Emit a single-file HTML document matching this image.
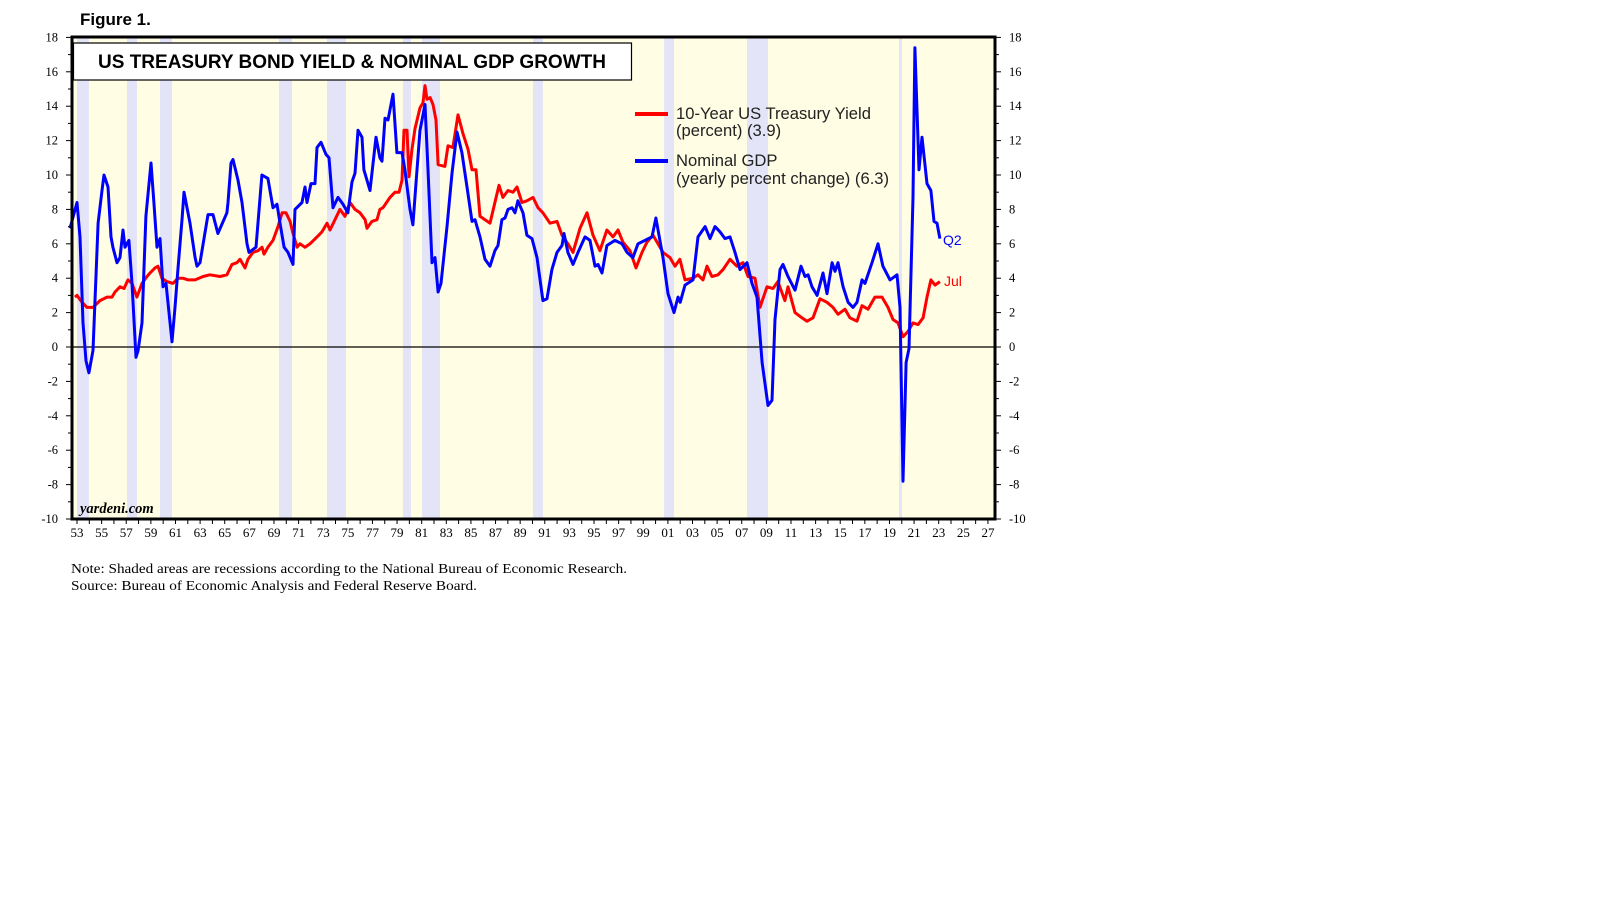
<!DOCTYPE html>
<html><head><meta charset="utf-8"><style>
html,body{margin:0;padding:0;background:#fff;width:1610px;height:910px;overflow:hidden}
svg{display:block}
</style></head><body>
<svg id="chart" width="1610" height="910" xmlns="http://www.w3.org/2000/svg">
<text x="80" y="25" font-family="Liberation Sans, sans-serif" font-weight="bold" font-size="17" fill="#000">Figure 1.</text>
<g id="plot"></g>
</svg>
<script>
const recessions = [[1953.0,1953.97],[1957.06,1957.87],[1959.74,1960.72],[1969.41,1970.47],[1973.31,1974.85],[1979.48,1980.13],[1981.03,1982.49],[1990.04,1990.85],[2000.69,2001.5],[2007.43,2009.13],[2019.78,2020.02]];
const gdpYears = [1952.43,1953.0,1953.24,1953.49,1953.73,1953.97,1954.3,1954.71,1955.03,1955.19,1955.52,1955.76,1955.92,1956.25,1956.49,1956.74,1956.9,1957.22,1957.47,1957.79,1957.96,1958.28,1958.6,1959.01,1959.25,1959.5,1959.74,1959.99,1960.23,1960.72,1960.96,1961.2,1961.53,1961.69,1962.18,1962.59,1962.75,1962.99,1963.64,1964.05,1964.45,1965.18,1965.27,1965.51,1965.67,1966.08,1966.4,1966.81,1966.97,1967.54,1968.02,1968.51,1968.92,1969.25,1969.49,1969.82,1970.14,1970.55,1970.71,1971.28,1971.52,1971.68,1972.01,1972.33,1972.5,1972.82,1973.23,1973.47,1973.8,1974.2,1974.61,1975.01,1975.34,1975.58,1975.83,1976.15,1976.31,1976.8,1977.29,1977.61,1977.78,1978.02,1978.26,1978.67,1978.99,1979.4,1979.64,1980.05,1980.29,1980.62,1980.86,1981.27,1981.51,1981.84,1982.08,1982.33,1982.57,1983.06,1983.46,1983.87,1984.27,1984.68,1985.09,1985.33,1985.74,1986.14,1986.55,1986.95,1987.2,1987.52,1987.77,1988.01,1988.34,1988.58,1988.82,1989.23,1989.55,1989.96,1990.37,1990.85,1991.18,1991.58,1991.99,1992.4,1992.56,1992.88,1993.29,1993.7,1994.27,1994.67,1995.08,1995.32,1995.65,1996.05,1996.7,1997.27,1997.68,1998.16,1998.57,1999.14,1999.71,2000.03,2000.6,2001.01,2001.5,2001.82,2002.0,2002.39,2003.04,2003.45,2004.02,2004.42,2004.83,2005.23,2005.64,2006.05,2006.45,2006.86,2007.43,2007.83,2008.24,2008.65,2009.13,2009.46,2009.7,2010.11,2010.35,2010.76,2011.33,2011.81,2012.14,2012.39,2012.71,2013.12,2013.6,2013.93,2014.34,2014.58,2014.82,2015.23,2015.64,2016.04,2016.36,2016.77,2017.01,2017.58,2018.07,2018.47,2019.04,2019.61,2019.86,2020.1,2020.35,2020.59,2020.91,2021.07,2021.4,2021.64,2022.05,2022.37,2022.62,2022.86,2023.1];
const gdpValues = [6.9,8.4,6.4,1.4,-0.8,-1.5,-0.2,7.2,9.1,10.0,9.3,6.4,5.8,4.9,5.2,6.8,5.8,6.2,3.7,-0.6,-0.2,1.4,7.6,10.7,8.4,5.8,6.3,3.5,3.7,0.3,2.3,4.5,7.4,9.0,7.2,5.2,4.7,4.9,7.7,7.7,6.6,7.8,8.4,10.7,10.9,9.7,8.4,6.0,5.5,5.8,10.0,9.8,8.1,8.3,7.2,5.8,5.5,4.8,8.0,8.4,9.3,8.4,9.5,9.5,11.6,11.9,11.2,11.0,8.1,8.7,8.3,7.8,9.6,10.1,12.6,12.2,10.3,9.1,12.2,11.0,10.8,13.3,13.2,14.7,11.3,11.3,10.3,8.0,7.1,10.3,12.6,14.1,10.3,4.9,5.2,3.2,3.7,7.0,10.1,12.5,11.3,9.3,7.3,7.4,6.4,5.1,4.7,5.6,5.9,7.4,7.5,8.0,8.1,7.8,8.5,7.8,6.5,6.3,5.2,2.7,2.8,4.5,5.5,5.9,6.6,5.5,4.8,5.5,6.4,6.2,4.7,4.8,4.3,5.9,6.2,6.0,5.5,5.2,6.0,6.2,6.4,7.5,5.2,3.1,2.0,2.9,2.6,3.6,3.9,6.4,7.0,6.3,7.0,6.7,6.3,6.4,5.5,4.5,4.9,3.7,2.9,-0.9,-3.4,-3.1,1.6,4.5,4.8,4.1,3.3,4.7,4.1,4.2,3.5,3.0,4.3,3.1,4.9,4.4,4.9,3.5,2.6,2.3,2.6,3.9,3.7,4.9,6.0,4.7,3.9,4.2,2.3,-7.8,-0.9,-0.1,8.7,17.4,10.3,12.2,9.5,9.1,7.3,7.2,6.3];
const yieldYears = [1952.84,1953.0,1953.41,1953.81,1954.3,1954.87,1955.44,1955.84,1956.09,1956.49,1956.82,1957.14,1957.47,1957.87,1958.28,1958.69,1958.93,1959.34,1959.58,1959.9,1960.31,1960.8,1961.2,1961.61,1962.02,1962.59,1963.24,1963.8,1964.62,1965.18,1965.59,1965.99,1966.24,1966.65,1966.89,1967.3,1967.7,1968.03,1968.19,1968.51,1968.92,1969.33,1969.66,1969.98,1970.31,1970.55,1970.88,1971.11,1971.52,1971.93,1972.5,1972.9,1973.31,1973.55,1973.96,1974.36,1974.77,1975.18,1975.58,1975.99,1976.4,1976.56,1976.96,1977.37,1977.61,1977.86,1978.43,1978.83,1979.16,1979.4,1979.56,1979.81,1979.97,1980.21,1980.46,1980.86,1981.11,1981.27,1981.43,1981.68,1981.92,1982.16,1982.33,1982.89,1983.14,1983.54,1983.95,1984.36,1984.76,1985.09,1985.41,1985.74,1986.14,1986.55,1986.95,1987.28,1987.6,1988.01,1988.42,1988.74,1989.15,1989.55,1990.04,1990.45,1990.85,1991.42,1991.99,1992.4,1992.88,1993.29,1993.86,1994.43,1994.92,1995.48,1996.05,1996.54,1996.95,1997.35,1997.92,1998.41,1998.9,1999.3,1999.79,2000.2,2000.6,2001.17,2001.58,2001.98,2002.39,2003.04,2003.45,2003.85,2004.18,2004.58,2005.07,2005.48,2006.05,2006.61,2007.1,2007.51,2008.08,2008.48,2009.05,2009.54,2009.94,2010.51,2010.76,2011.33,2011.89,2012.3,2012.79,2013.36,2013.93,2014.41,2014.82,2015.39,2015.79,2016.36,2016.77,2017.26,2017.82,2018.39,2018.88,2019.29,2019.69,2020.1,2020.51,2020.91,2021.32,2021.73,2022.05,2022.37,2022.7,2023.1];
const yieldValues = [2.9,3.0,2.6,2.3,2.3,2.7,2.9,2.9,3.2,3.5,3.4,3.9,3.7,2.9,3.7,4.1,4.3,4.6,4.7,4.0,3.8,3.7,4.0,4.0,3.9,3.9,4.1,4.2,4.1,4.2,4.8,4.9,5.1,4.6,5.1,5.5,5.6,5.8,5.4,5.8,6.2,7.0,7.8,7.8,7.3,6.6,5.8,6.0,5.8,6.0,6.4,6.7,7.2,6.8,7.4,8.0,7.6,8.4,8.0,7.8,7.4,6.9,7.3,7.4,8.0,8.1,8.7,9.0,9.0,9.7,12.6,12.6,9.9,11.5,12.7,13.9,14.2,15.2,14.4,14.5,14.1,13.2,10.6,10.5,11.7,11.6,13.5,12.4,11.5,10.3,10.3,7.6,7.4,7.2,8.4,9.4,8.7,9.1,9.0,9.3,8.4,8.5,8.7,8.1,7.8,7.2,7.3,6.5,6.0,5.5,6.9,7.8,6.5,5.6,6.8,6.4,6.8,6.1,5.6,4.6,5.5,6.1,6.5,6.0,5.5,5.2,4.7,5.1,3.9,4.0,4.2,3.9,4.7,4.1,4.2,4.5,5.1,4.7,4.9,4.1,4.0,2.3,3.5,3.4,3.8,2.7,3.5,2.0,1.7,1.5,1.7,2.8,2.6,2.3,1.9,2.2,1.7,1.5,2.4,2.2,2.9,2.9,2.3,1.6,1.4,0.6,0.9,1.4,1.3,1.7,2.9,3.9,3.6,3.8];
const yTicks = [18,16,14,12,10,8,6,4,2,0,-2,-4,-6,-8,-10];
const xTickLabels = ['53','55','57','59','61','63','65','67','69','71','73','75','77','79','81','83','85','87','89','91','93','95','97','99','01','03','05','07','09','11','13','15','17','19','21','23','25','27'];

const NS='http://www.w3.org/2000/svg';
const L=72,R=995,T=37,B=519;
const xs=yr=>77+(yr-1953)*12.31;
const ys=v=>347-v*17.2;
const g=document.getElementById('plot');
function mk(tag,attrs,parent){const e=document.createElementNS(NS,tag);for(const k in attrs)e.setAttribute(k,attrs[k]);(parent||g).appendChild(e);return e;}

const bg=mk('rect',{x:L,y:T,width:R-L,height:B-T,fill:'#FFFDE3'});


recessions.forEach(r=>{
  const x0=Math.max(L,xs(r[0]));
  const e=mk('rect',{x:x0,y:T,width:xs(r[1])-x0,height:B-T,fill:'#E4E4F8'});
  
  
});
const zl=mk('line',{x1:L,x2:R,y1:ys(0),y2:ys(0),stroke:'#000','stroke-width':1.2});



for(let v=-10;v<=18;v++){
  const y=ys(v);const len=(v%2===0)?6:4;
  mk('line',{x1:L-len,x2:L,y1:y,y2:y,stroke:'#000','stroke-width':1});
  mk('line',{x1:R,x2:R+len,y1:y,y2:y,stroke:'#000','stroke-width':1});
}
yTicks.forEach(v=>{
  const a=mk('text',{x:L-14,y:ys(v)+4,'text-anchor':'end','font-family':'Liberation Serif, serif','font-size':12.5,fill:'#000'});
  a.textContent=v;
  
  
  const b=mk('text',{x:R+14,y:ys(v)+4,'text-anchor':'start','font-family':'Liberation Serif, serif','font-size':12.5,fill:'#000'});
  b.textContent=v;
  
  
});
for(let yr=1953;yr<=2027;yr++){
  const x=xs(yr);
  mk('line',{x1:x,x2:x,y1:B,y2:B+5,stroke:'#000','stroke-width':1});
}
xTickLabels.forEach((lab,i)=>{
  const t=mk('text',{x:xs(1953+2*i),y:B+18,'text-anchor':'middle','font-family':'Liberation Serif, serif','font-size':13,fill:'#000'});
  t.textContent=lab;
  
  
});

function line(years,vals,color,name){
  const d=years.map((y,i)=>(i?'L':'M')+xs(y).toFixed(1)+','+ys(vals[i]).toFixed(1)).join('');
  const p=mk('path',{d:d,fill:'none',stroke:color,'stroke-width':3,'stroke-linejoin':'round'});
  
  
}
line(yieldYears,yieldValues,'#FF0000','treasury-yield-line');
line(gdpYears,gdpValues,'#0000FF','nominal-gdp-line');

const fr=mk('rect',{x:L,y:T,width:R-L,height:B-T,fill:'none',stroke:'#000','stroke-width':3});



const tb=mk('rect',{x:73.5,y:43,width:558,height:37,fill:'#fff',stroke:'#000','stroke-width':1.2});


const tt=mk('text',{x:98,y:68,'font-family':'Liberation Sans, sans-serif','font-weight':'bold','font-size':19.5,fill:'#000',textLength:508,lengthAdjust:'spacingAndGlyphs'});
tt.textContent='US TREASURY BOND YIELD & NOMINAL GDP GROWTH';



const l1=mk('line',{x1:635,x2:668,y1:114,y2:114,stroke:'#FF0000','stroke-width':4});


const l2=mk('line',{x1:635,x2:668,y1:161,y2:161,stroke:'#0000FF','stroke-width':4});


[['10-Year US Treasury Yield',119,'legend-yield-label'],['(percent) (3.9)',136,'legend-yield-sub'],['Nominal GDP',166,'legend-gdp-label'],['(yearly percent change) (6.3)',184,'legend-gdp-sub']].forEach(a=>{
  const t=mk('text',{x:676,y:a[1],'font-family':'Liberation Sans, sans-serif','font-size':16.6,fill:'#222'});
  t.textContent=a[0];
  
  
});
const q2=mk('text',{x:943,y:245,'font-family':'Liberation Sans, sans-serif','font-size':14,fill:'#0000FF'});
q2.textContent='Q2';


const jl=mk('text',{x:944,y:286,'font-family':'Liberation Sans, sans-serif','font-size':14,fill:'#FF0000'});
jl.textContent='Jul';


const yd=mk('text',{x:80,y:513,'font-family':'Liberation Serif, serif','font-style':'italic','font-weight':'bold','font-size':14.5,fill:'#000'});
yd.textContent='yardeni.com';


const n1=mk('text',{x:71,y:573,'font-family':'Liberation Serif, serif','font-size':13.3,fill:'#000',textLength:556,lengthAdjust:'spacingAndGlyphs'});
n1.textContent='Note: Shaded areas are recessions according to the National Bureau of Economic Research.';


const n2=mk('text',{x:71,y:590,'font-family':'Liberation Serif, serif','font-size':13.3,fill:'#000',textLength:406,lengthAdjust:'spacingAndGlyphs'});
n2.textContent='Source: Bureau of Economic Analysis and Federal Reserve Board.';


</script>
</body></html>
